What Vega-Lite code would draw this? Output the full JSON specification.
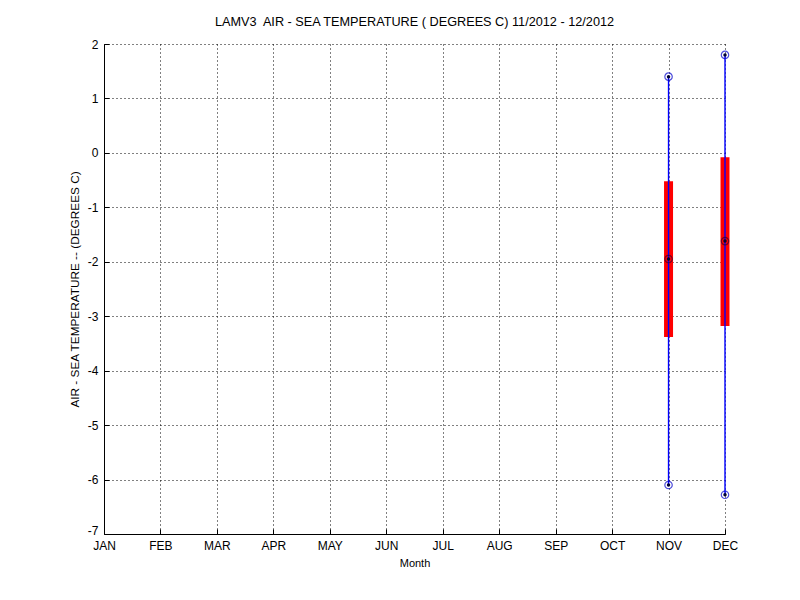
{
  "$schema": "https://vega.github.io/schema/vega-lite/v6.json",
  "width": 621,
  "height": 490,
  "autosize": {"type": "none"},
  "padding": {"left": 104, "top": 44, "right": 75, "bottom": 66},
  "background": "white",
  "title": {
    "text": "LAMV3\u00a0 AIR - SEA TEMPERATURE ( DEGREES C) 11/2012 - 12/2012",
    "font": "Liberation Sans",
    "fontSize": 12.7,
    "fontWeight": "normal",
    "color": "black",
    "anchor": "middle",
    "offset": 9
  },
  "data": {
    "values": [
      {"month": "NOV", "min": -6.1, "q1": -3.38, "median": -1.95, "q3": -0.52, "max": 1.4},
      {"month": "DEC", "min": -6.28, "q1": -3.18, "median": -1.62, "q3": -0.08, "max": 1.8}
    ]
  },
  "encoding": {
    "x": {
      "field": "month",
      "type": "ordinal",
      "scale": {
        "type": "point",
        "padding": 0,
        "domain": ["JAN", "FEB", "MAR", "APR", "MAY", "JUN", "JUL", "AUG", "SEP", "OCT", "NOV", "DEC"]
      },
      "axis": {
        "title": "Month",
        "labelAngle": 0,
        "grid": true,
        "labelPadding": 11
      }
    }
  },
  "layer": [
    {
      "mark": {"type": "bar", "color": "#ff0000", "size": 9},
      "encoding": {
        "y": {
          "field": "q1",
          "type": "quantitative",
          "scale": {"domain": [-7, 2], "nice": false, "zero": false},
          "axis": {
            "title": "AIR - SEA TEMPERATURE -- (DEGREES C)",
            "values": [-7, -6, -5, -4, -3, -2, -1, 0, 1, 2],
            "labelExpr": "'' + datum.value",
            "labelOffset": {"condition": {"test": "datum.value == -7", "value": -4}, "value": 0},
            "grid": true,
            "labelPadding": 11
          }
        },
        "y2": {"field": "q3"}
      }
    },
    {
      "mark": {"type": "rule", "color": "#0000ff", "strokeWidth": 1.4},
      "encoding": {
        "y": {"field": "min", "type": "quantitative"},
        "y2": {"field": "max"}
      }
    },
    {
      "mark": {"type": "point", "shape": "circle", "filled": false, "stroke": "#0000cc", "strokeWidth": 1.2, "size": 55},
      "encoding": {"y": {"field": "max", "type": "quantitative"}}
    },
    {
      "mark": {"type": "point", "shape": "circle", "filled": true, "fill": "#000033", "size": 12, "opacity": 1},
      "encoding": {"y": {"field": "max", "type": "quantitative"}}
    },
    {
      "mark": {"type": "point", "shape": "circle", "filled": false, "stroke": "#0000cc", "strokeWidth": 1.2, "size": 55},
      "encoding": {"y": {"field": "min", "type": "quantitative"}}
    },
    {
      "mark": {"type": "point", "shape": "circle", "filled": true, "fill": "#000033", "size": 12, "opacity": 1},
      "encoding": {"y": {"field": "min", "type": "quantitative"}}
    },
    {
      "mark": {"type": "point", "shape": "circle", "filled": false, "stroke": "#330033", "strokeWidth": 1.2, "size": 55},
      "encoding": {"y": {"field": "median", "type": "quantitative"}}
    },
    {
      "mark": {"type": "point", "shape": "circle", "filled": true, "fill": "#000033", "size": 12, "opacity": 1},
      "encoding": {"y": {"field": "median", "type": "quantitative"}}
    }
  ],
  "config": {
    "view": {"stroke": null},
    "font": "Liberation Sans",
    "axis": {
      "domainColor": "black",
      "domainWidth": 1,
      "tickColor": "black",
      "tickSize": -5,
      "labelColor": "black",
      "labelFont": "Liberation Sans",
      "labelFontSize": 12,
      "titleFont": "Liberation Sans",
      "titleFontSize": 12,
      "titleFontWeight": "normal",
      "titleColor": "black",
      "gridColor": "black",
      "gridDash": [1, 3],
      "gridOpacity": 1,
      "gridWidth": 1
    },
    "axisX": {"titlePadding": 6, "titleFontSize": 11},
    "axisY": {"titlePadding": 7, "labelFlush": false, "titleFontSize": 11.8}
  }
}
